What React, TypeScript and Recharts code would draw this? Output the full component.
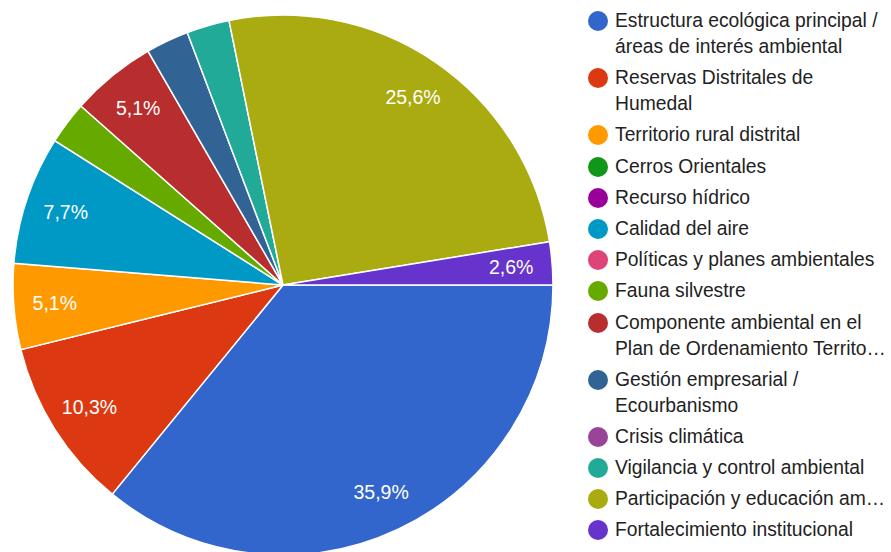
import { PieChart, Pie, Cell } from "recharts";

// Categorías tal como aparecen en la leyenda (orden de la encuesta)
const categories = [
  "Estructura ecológica principal / áreas de interés ambiental",
  "Reservas Distritales de Humedal",
  "Territorio rural distrital",
  "Cerros Orientales",
  "Recurso hídrico",
  "Calidad del aire",
  "Políticas y planes ambientales",
  "Fauna silvestre",
  "Componente ambiental en el Plan de Ordenamiento Territorial",
  "Gestión empresarial / Ecourbanismo",
  "Crisis climática",
  "Vigilancia y control ambiental",
  "Participación y educación ambiental",
  "Fortalecimiento institucional",
];

// Texto visible en la leyenda (con saltos de línea y recortes)
const legendLines = [
  ["Estructura ecológica principal /", "áreas de interés ambiental"],
  ["Reservas Distritales de", "Humedal"],
  ["Territorio rural distrital"],
  ["Cerros Orientales"],
  ["Recurso hídrico"],
  ["Calidad del aire"],
  ["Políticas y planes ambientales"],
  ["Fauna silvestre"],
  ["Componente ambiental en el", "Plan de Ordenamiento Territo…"],
  ["Gestión empresarial /", "Ecourbanismo"],
  ["Crisis climática"],
  ["Vigilancia y control ambiental"],
  ["Participación y educación am…"],
  ["Fortalecimiento institucional"],
];

// Número de respuestas (39 en total)
const responses = [14, 4, 2, 0, 0, 3, 0, 1, 2, 1, 0, 1, 10, 1];

const colors = [
  "#3366cc", "#dc3912", "#ff9900", "#109618", "#990099", "#0099c6", "#dd4477",
  "#66aa00", "#b82e2e", "#316395", "#994499", "#22aa99", "#aaaa11", "#6633cc",
];

// Porciones donde el gráfico muestra el porcentaje
const labelled = [
  "Estructura ecológica principal / áreas de interés ambiental",
  "Reservas Distritales de Humedal",
  "Territorio rural distrital",
  "Calidad del aire",
  "Componente ambiental en el Plan de Ordenamiento Territorial",
  "Participación y educación ambiental",
  "Fortalecimiento institucional",
];

const FONT = "'Liberation Sans', Arial, sans-serif";
const RAD = Math.PI / 180;

const data = categories
  .map((name, i) => ({ name, value: responses[i], color: colors[i] }))
  .filter((d) => d.value > 0);

const renderLabel = (props: any) => {
  const { cx, cy, midAngle, outerRadius, percent, name } = props;
  if (!labelled.includes(name)) return null;
  const r = outerRadius * 0.848;
  const x = cx + r * Math.cos(-midAngle * RAD);
  const y = cy + r * Math.sin(-midAngle * RAD);
  return (
    <text
      x={x}
      y={y}
      fill="#ffffff"
      textAnchor="middle"
      dominantBaseline="central"
      style={{ fontFamily: FONT, fontSize: 19.5 }}
    >
      {(percent * 100).toFixed(1).replace(".", ",")}%
    </text>
  );
};

export default function App() {
  return (
    <div
      style={{
        position: "absolute",
        left: 0,
        top: 0,
        width: 891,
        height: 552,
        background: "#fff",
        overflow: "hidden",
      }}
    >
      <PieChart
        width={891}
        height={552}
        margin={{ top: 0, right: 0, bottom: 0, left: 0 }}
      >
        <Pie
          data={data}
          dataKey="value"
          nameKey="name"
          cx={283}
          cy={285}
          outerRadius={270}
          startAngle={0}
          endAngle={-360}
          stroke="#ffffff"
          strokeWidth={1.5}
          label={renderLabel}
          labelLine={false}
          isAnimationActive={false}
        >
          {data.map((entry) => (
            <Cell key={entry.name} fill={entry.color} />
          ))}
        </Pie>
      </PieChart>

      <div
        style={{
          position: "absolute",
          left: 588,
          top: 8,
          fontFamily: FONT,
          fontSize: 19.3,
          color: "#222222",
          lineHeight: "26px",
        }}
      >
        {legendLines.map((lines, i) => (
          <div
            key={categories[i]}
            style={{ display: "flex", alignItems: "flex-start", marginBottom: 5.2 }}
          >
            <span
              style={{
                width: 20,
                height: 20,
                borderRadius: "50%",
                background: colors[i],
                marginTop: 3,
                marginRight: 7,
                flexShrink: 0,
              }}
            />
            <div>
              {lines.map((l) => (
                <div key={l} style={{ whiteSpace: "nowrap" }}>
                  {l}
                </div>
              ))}
            </div>
          </div>
        ))}
      </div>
    </div>
  );
}
